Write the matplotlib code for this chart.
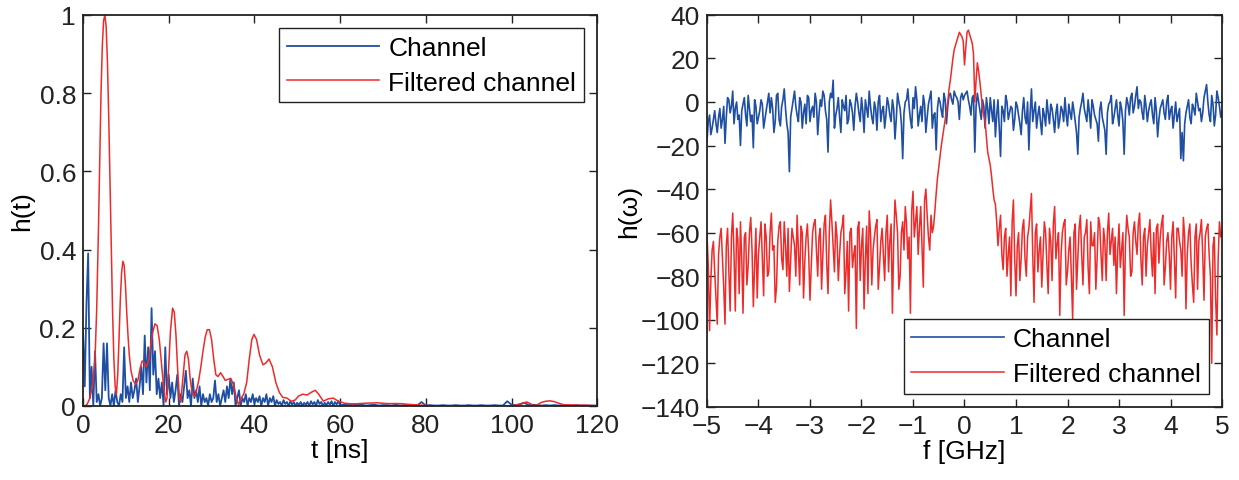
import numpy as np
import matplotlib
matplotlib.use("Agg")
import matplotlib.pyplot as plt

plt.rcParams['font.family'] = ['Liberation Sans', 'DejaVu Sans']
plt.rcParams['axes.unicode_minus'] = True

# --- datos ---

# respuesta al impulso del canal (0 a 60 ns, paso 0.4 ns)
t_ch = np.arange(0, 60.01, 0.4)
h_ch = [0.19, 0.05, 0.26, 0.39, 0.02, 0.10, 0.00, 0.14, 0.01, 0.03,
        0.00, 0.02, 0.16, 0.04, 0.16, 0.02, 0.00, 0.03, 0.00, 0.04,
        0.01, 0.00, 0.03, 0.01, 0.15, 0.02, 0.05, 0.01, 0.06, 0.02,
        0.04, 0.07, 0.01, 0.05, 0.10, 0.03, 0.18, 0.06, 0.15, 0.04,
        0.25, 0.08, 0.14, 0.03, 0.07, 0.02, 0.06, 0.00, 0.15, 0.03,
        0.08, 0.02, 0.06, 0.01, 0.04, 0.08, 0.00, 0.03, 0.01, 0.05,
        0.09, 0.02, 0.04, 0.00, 0.07, 0.02, 0.04, 0.01, 0.05, 0.00,
        0.03, 0.01, 0.02, 0.00, 0.03, 0.01, 0.02, 0.065, 0.01, 0.03,
        0.00, 0.02, 0.04, 0.01, 0.05, 0.02, 0.07, 0.03, 0.06, 0.00,
        0.02, 0.04, 0.00, 0.02, 0.01, 0.03, 0.00, 0.02, 0.01, 0.03,
        0.005, 0.02, 0.01, 0.025, 0.00, 0.02, 0.01, 0.03, 0.00, 0.02,
        0.01, 0.025, 0.00, 0.015, 0.005, 0.01, 0.00, 0.015, 0.005, 0.01,
        0.00, 0.012, 0.003, 0.01, 0.00, 0.008, 0.002, 0.01, 0.00, 0.008,
        0.003, 0.01, 0.00, 0.012, 0.004, 0.01, 0.00, 0.015, 0.005, 0.01,
        0.00, 0.008, 0.002, 0.01, 0.003, 0.012, 0.00, 0.01, 0.004, 0.012,
        0.002]
# cola del canal (61 a 120 ns, paso 1 ns)
t_tail = np.arange(61, 121, 1)
h_tail = [0.003, 0.002, 0.004, 0.002, 0.003, 0.001, 0.002, 0.003, 0.001, 0.002,
          0.002, 0.001, 0.003, 0.001, 0.002, 0.001, 0.002, 0.001, 0.010, 0.001,
          0.002, 0.001, 0.001, 0.002, 0.001, 0.001, 0.002, 0.001, 0.001, 0.002,
          0.001, 0.001, 0.002, 0.001, 0.001, 0.002, 0.001, 0.001, 0.012, 0.003,
          0.002, 0.004, 0.008, 0.002, 0.003, 0.002, 0.001, 0.002, 0.001, 0.002,
          0.001, 0.002, 0.001, 0.001, 0.002, 0.001, 0.001, 0.001, 0.001, 0.001]

# canal filtrado (curva suave)
t_filt = [0.0, 0.5, 1.0, 1.6, 2.2, 2.8, 3.2, 3.6, 3.9, 4.2, 4.5, 4.8, 5.1,
          5.4, 5.7, 6.0, 6.3, 6.6, 6.9, 7.2, 7.5, 7.8, 8.1, 8.4, 8.7, 9.0,
          9.3, 9.6, 9.9, 10.2, 10.5, 10.8, 11.2, 11.7, 12.3, 12.8, 13.3,
          13.8, 14.3, 14.8, 15.3, 15.8, 16.3, 16.8, 17.3, 17.8, 18.3, 18.8,
          19.3, 19.6, 20.0, 20.4, 20.9, 21.3, 21.7, 22.1, 22.5, 22.8, 23.3,
          23.8, 24.2, 24.6, 25.0, 25.5, 26.0, 26.5, 27.0, 27.5, 28.0, 28.5,
          29.0, 29.5, 30.0, 30.5, 31.0, 31.5, 32.1, 32.7, 33.2, 33.8, 34.5,
          35.1, 35.7, 36.3, 36.9, 37.5, 38.2, 38.8, 39.4, 39.9, 40.5, 41.2,
          42.0, 42.7, 43.4, 44.2, 45.0, 45.8, 46.6, 47.6, 48.6, 49.5, 50.3,
          51.2, 52.3, 53.3, 54.2, 55.0, 56.1, 57.2, 58.4, 59.6, 61.0, 63.0,
          66.0, 68.6, 71.0, 74.0, 76.0, 78.7, 82.0, 92.0, 99.7, 101.0, 102.5,
          103.6, 104.5, 105.2, 106.0, 107.0, 108.0, 109.0, 110.0, 111.0,
          112.2, 115.0, 117.0, 120.0]
h_filt = [0.0, 0.0, 0.005, 0.02, 0.05, 0.12, 0.25, 0.45, 0.63, 0.80, 0.92,
          0.985, 1.0, 0.97, 0.88, 0.74, 0.57, 0.40, 0.24, 0.12, 0.05, 0.03,
          0.08, 0.17, 0.27, 0.34, 0.37, 0.36, 0.31, 0.24, 0.18, 0.13, 0.09,
          0.065, 0.055, 0.065, 0.095, 0.115, 0.11, 0.10, 0.115, 0.155, 0.19,
          0.21, 0.205, 0.17, 0.11, 0.05, 0.01, 0.02, 0.10, 0.19, 0.25, 0.24,
          0.18, 0.09, 0.02, 0.01, 0.07, 0.13, 0.14, 0.12, 0.07, 0.03, 0.025,
          0.04, 0.065, 0.10, 0.14, 0.175, 0.195, 0.195, 0.17, 0.12, 0.08,
          0.075, 0.085, 0.075, 0.065, 0.068, 0.07, 0.055, 0.025, 0.003, 0.02,
          0.03, 0.06, 0.12, 0.17, 0.183, 0.17, 0.13, 0.105, 0.11, 0.12, 0.10,
          0.06, 0.035, 0.022, 0.02, 0.012, 0.015, 0.025, 0.03, 0.028, 0.035,
          0.04, 0.03, 0.012, 0.018, 0.02, 0.012, 0.007, 0.005, 0.007, 0.008,
          0.006, 0.006, 0.004, 0.002, 0.0, 0.0, 0.0, 0.002, 0.007, 0.01,
          0.005, 0.0, 0.003, 0.009, 0.012, 0.013, 0.011, 0.007, 0.003, 0.002,
          0.002, 0.0]

# respuesta en frecuencia: muestras en f = -5, -4.95, ..., 5
H_ch = [-18, -6, -12, -4, -14, -3, -8, -19, 2, -5,
        5, -3, -8, -20, -1, -6, 3, -9, -21, -2,
        -7, 1, -12, -4, 4, 2, -14, 3, -8, -2,
        6, -10, -32, -3, 5, -6, 2, -12, -1, 3,
        -9, -2, 4, -15, 1, 5, -4, -23, 4, 10,
        -6, 2, -14, -2, 3, -8, -1, -13, 4, -5,
        2, -14, -3, 5, -7, 0, -13, 3, -4, -12,
        2, -6, 1, -17, 4, -3, -26, 0, 6, -8,
        2, 7, -11, -2, 3, -14, -1, 5, -6, -22,
        2, -4, 4, -10, 3, 1, 5, 2, -8, 4,
        3, 5, -2, 2, -23, 4, -4, 1, -12, -3,
        2, -9, -16, 1, -25, -4, 3, -8, -2, -13,
        0, -6, -15, 2, -10, -22, 6, -4, -12, -2,
        -15, -6, 1, -10, -3, -14, -1, -8, -4, 2,
        -11, -5, 0, -9, -24, -3, 4, -6, 1, -12,
        -2, -8, -18, 0, -10, -24, -1, 3, -7, 1,
        -11, -3, -24, 2, -6, 4, -2, 7, 1, -5,
        3, -9, -1, -6, 2, -16, -3, 1, -8, 3,
        -4, -12, 0, -6, -26, -27, -5, 1, -10, -3,
        4, -4, -9, 2, 8, -6, 3, -11, 5, -2,
        -4]
# muestras intermedias en f = -4.975, -4.925, ..., 4.975
H_ch_mid = [-9, -15, -8, -10, -7, -12, -2, -7, 1, -2,
            -10, 0, -6, -4, 2, -11, -3, -6, 1, -10,
            -4, -1, -8, 0, -5, -3, -9, 4, -11, 1,
            -3, -14, -7, 1, -2, -9, 0, -5, -10, 2,
            -4, -7, 0, -6, -2, 3, -8, 0, 2, -12,
            -3, -7, 1, -4, -10, 1, -5, -2, 0, -9,
            -4, 1, -7, -2, -10, -3, 0, -9, -2, -6,
            -1, -9, -3, -8, 0, -10, -5, 1, -2, -12,
            -3, 1, -6, -9, -1, -7, 2, -12, -5, -3,
            0, -7, 1, -2, 4, -1, 3, 0, 2, 1,
            4, 1, -6, 3, -2, 0, -8, -2, 2, -10,
            -4, 1, -6, -12, -2, -9, 0, -5, -3, -8,
            -2, -10, -4, -7, 0, -5, -9, 0, -6, -9,
            -3, -11, -5, -1, -8, -5, -12, -2, -9, -6,
            -1, -8, -4, -14, -7, 0, -3, -9, -5, 1,
            -6, -10, -4, -7, -13, -5, 0, -10, -3, -6,
            0, -9, -4, -1, 2, -5, 3, -3, 0, -8,
            -2, -4, 1, -10, -4, -8, -1, -5, 0, -8,
            -2, -6, -9, -3, -14, -10, -2, -7, -1, -6,
            0, -3, -5, 5, 0, -9, -1, -6, 2, -7]
H_filt = [-60, -105, -68, -78, -102, -62, -72, -102, -58, -96,
          -51, -96, -63, -55, -97, -60, -75, -53, -94, -58,
          -70, -55, -89, -62, -78, -51, -66, -85, -57, -72,
          -55, -80, -87, -58, -66, -52, -84, -60, -73, -56,
          -91, -60, -54, -80, -58, -70, -52, -88, -45, -67,
          -55, -82, -60, -52, -78, -96, -58, -70, -104, -55,
          -66, -95, -57, -50, -84, -62, -54, -76, -58, -82,
          -52, -64, -97, -45, -60, -80, -55, -48, -72, -97,
          -41, -55, -70, -48, -85, -40, -62, -52, -57, -42,
          -30, -20, -12, -4, 6, 15, 24, 28, 32, 30,
          17, 32, 31, 27, 0, 18, 9, -3, -9, -23,
          -29, -40, -47, -66, -52, -77, -58, -70, -89, -45,
          -89, -60, -72, -54, -80, -58, -42, -92, -56, -68,
          -85, -55, -75, -58, -82, -48, -65, -98, -60, -54,
          -78, -62, -100, -56, -72, -52, -84, -60, -76, -55,
          -66, -86, -53, -70, -58, -82, -51, -64, -75, -88,
          -56, -68, -98, -52, -62, -78, -55, -70, -51, -84,
          -58, -66, -54, -80, -88, -56, -62, -52, -76, -60,
          -86, -55, -90, -58, -68, -53, -95, -60, -74, -92,
          -56, -64, -54, -91, -58, -70, -120, -62, -107, -55,
          -60]
H_filt_mid = [-75, -82, -64, -90, -70, -58, -85, -66, -78, -62,
              -70, -58, -88, -72, -62, -84, -60, -68, -75, -90,
              -62, -72, -56, -80, -60, -68, -92, -64, -55, -77,
              -66, -58, -72, -62, -80, -68, -57, -90, -62, -70,
              -76, -56, -68, -62, -86, -56, -74, -60, -55, -78,
              -62, -70, -57, -88, -64, -60, -76, -66, -58, -82,
              -58, -72, -88, -60, -68, -57, -86, -64, -70, -60,
              -78, -56, -65, -52, -86, -60, -68, -56, -62, -50,
              -62, -48, -58, -66, -45, -52, -68, -60, -50, -35,
              -25, -16, -8, 0, 10, 20, 26, 30, 31, 28,
              25, 33, 29, 22, 10, 14, 3, -6, -16, -26,
              -34, -45, -55, -58, -70, -62, -80, -62, -55, -72,
              -66, -82, -58, -72, -62, -50, -70, -60, -78, -62,
              -70, -60, -88, -64, -56, -72, -60, -70, -56, -84,
              -68, -80, -60, -86, -58, -70, -62, -54, -88, -66,
              -60, -72, -56, -82, -64, -60, -70, -58, -62, -68,
              -76, -60, -66, -58, -80, -60, -64, -56, -72, -62,
              -80, -60, -70, -60, -58, -74, -56, -84, -64, -70,
              -62, -72, -58, -64, -80, -62, -70, -56, -84, -62,
              -86, -60, -70, -62, -56, -80, -66, -90, -72, -62]

# intercalar muestras principales e intermedias
f = np.linspace(-5, 5, 401)
H_ch_all = np.empty(401)
H_ch_all[0::2] = H_ch
H_ch_all[1::2] = H_ch_mid
H_filt_all = np.empty(401)
H_filt_all[0::2] = H_filt
H_filt_all[1::2] = H_filt_mid

blue = '#1f4fa3'
red = '#ee2a2a'
fs = 19

fig = plt.figure(figsize=(12.39, 4.81), dpi=100)
ax1 = fig.add_axes([0.067, 0.154, 0.415, 0.813])
ax2 = fig.add_axes([0.5706, 0.152, 0.4157, 0.815])

leg_kw = dict(fontsize=fs, handlelength=3.5, handletextpad=0.35,
              fancybox=False, edgecolor='#222222', framealpha=1,
              borderpad=0.3, labelspacing=0.4, borderaxespad=0.5)

# panel izquierdo: dominio del tiempo
ax1.plot(np.concatenate([t_ch, t_tail]), h_ch + h_tail, color=blue, lw=1.3,
         label='Channel')
ax1.plot(t_filt, h_filt, color=red, lw=1.1, label='Filtered channel')
ax1.set_xlim(0, 120)
ax1.set_ylim(0, 1)
ax1.set_xticks(range(0, 121, 20))
ax1.set_yticks([0, 0.2, 0.4, 0.6, 0.8, 1])
ax1.set_yticklabels(['0', '0.2', '0.4', '0.6', '0.8', '1'])
ax1.set_xlabel('t [ns]', fontsize=fs, labelpad=1)
ax1.set_ylabel('h(t)', fontsize=fs, labelpad=4)
ax1.legend(loc='upper right', **leg_kw)

# panel derecho: dominio de la frecuencia
ax2.plot(f, H_ch_all, color=blue, lw=1.2, label='Channel')
ax2.plot(f, H_filt_all, color=red, lw=1.1, label='Filtered channel')
ax2.set_xlim(-5, 5)
ax2.set_ylim(-140, 40)
ax2.set_xticks(range(-5, 6))
ax2.set_yticks(range(-140, 41, 20))
ax2.set_xlabel('f [GHz]', fontsize=fs, labelpad=1)
ax2.set_ylabel('h(ω)', fontsize=fs, labelpad=0)
ax2.legend(loc='lower right', **leg_kw)

for ax in (ax1, ax2):
    ax.tick_params(direction='in', top=True, right=True, length=6, width=1,
                   labelsize=fs, colors='#222222', pad=5)
    for s in ax.spines.values():
        s.set_linewidth(1.3)
        s.set_color('#222222')

plt.savefig('out.png', dpi=100)
